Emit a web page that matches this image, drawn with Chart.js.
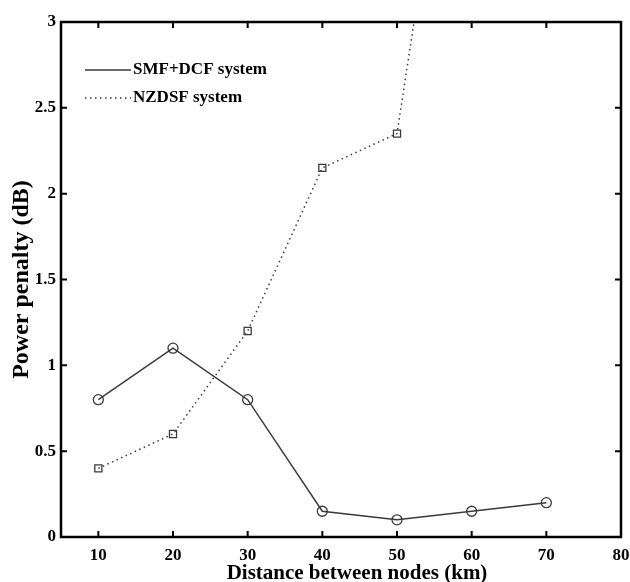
<!DOCTYPE html>
<html>
<head>
<meta charset="utf-8">
<script src="https://cdn.jsdelivr.net/npm/chart.js@4.4.1/dist/chart.umd.min.js"></script>
<style>
  html, body { margin: 0; padding: 0; background: #fff; }
  #wrap { width: 630px; height: 582px; }
</style>
</head>
<body>
<div id="wrap"><canvas id="penalty-chart" width="630" height="582"></canvas></div>
<script>
// data
var distances = [10, 20, 30, 40, 50, 60, 70];
var smfDcf = [0.8, 1.1, 0.8, 0.15, 0.1, 0.15, 0.2];
var nzdsfDistances = [10, 20, 30, 40, 50, 60];
var nzdsf = [0.4, 0.6, 1.2, 2.15, 2.35, 5.2];
var xTicks = [10, 20, 30, 40, 50, 60, 70, 80];
var yTicks = [0, 0.5, 1, 1.5, 2, 2.5, 3];
var xTitle = 'Distance between nodes (km)';

var serif = "'Liberation Serif', 'DejaVu Serif', serif";

function toPoints(xs, ys) {
  return xs.map(function (x, i) { return { x: x, y: ys[i] }; });
}

// frame + inward ticks on all four sides, x axis title
var framePlugin = {
  id: 'frame',
  afterDraw: function (chart) {
    var ctx = chart.ctx, a = chart.chartArea;
    var xs = chart.scales.x, ys = chart.scales.y;
    ctx.save();
    ctx.strokeStyle = '#000';
    ctx.lineWidth = 2.5;
    ctx.strokeRect(a.left, a.top, a.right - a.left, a.bottom - a.top);
    ctx.lineWidth = 2;
    ctx.beginPath();
    xTicks.forEach(function (v) {
      var px = xs.getPixelForValue(v);
      ctx.moveTo(px, a.top); ctx.lineTo(px, a.top + 6);
      ctx.moveTo(px, a.bottom); ctx.lineTo(px, a.bottom - 6);
    });
    yTicks.forEach(function (v) {
      var py = ys.getPixelForValue(v);
      ctx.moveTo(a.left, py); ctx.lineTo(a.left + 6, py);
      ctx.moveTo(a.right, py); ctx.lineTo(a.right - 6, py);
    });
    ctx.stroke();
    // x title sits a little right of centre in the original
    ctx.fillStyle = '#000';
    ctx.font = 'bold 21px ' + serif;
    ctx.textAlign = 'center';
    ctx.textBaseline = 'alphabetic';
    ctx.fillText(xTitle, (a.left + a.right) / 2 + 16, 579);
    ctx.restore();
  }
};

// legend drawn inside the plot, top-left
var insideLegend = {
  id: 'insideLegend',
  afterDraw: function (chart) {
    var ctx = chart.ctx;
    ctx.save();
    ctx.font = 'bold 17px ' + serif;
    ctx.textBaseline = 'middle';
    chart.data.datasets.forEach(function (ds, i) {
      var y = 70 + i * 28;
      ctx.strokeStyle = ds.borderColor;
      ctx.lineWidth = ds.borderWidth;
      ctx.setLineDash(ds.borderDash || []);
      ctx.beginPath();
      ctx.moveTo(85, y); ctx.lineTo(131, y);
      ctx.stroke();
      ctx.setLineDash([]);
      ctx.fillStyle = '#000';
      ctx.fillText(ds.label, 133, y);
    });
    ctx.restore();
  }
};

var penaltyData = {
  datasets: [{
    label: 'SMF+DCF system',
    data: toPoints(distances, smfDcf),
    borderColor: '#3a3a3a',
    borderWidth: 1.5,
    pointStyle: 'circle',
    pointRadius: 5,
    pointBorderWidth: 1.3,
    pointBorderColor: '#3a3a3a',
    pointBackgroundColor: 'rgba(0,0,0,0)',
    fill: false,
    tension: 0
  }, {
    label: 'NZDSF system',
    data: toPoints(nzdsfDistances, nzdsf),
    borderColor: '#3a3a3a',
    borderWidth: 1.5,
    borderDash: [1.5, 3.5],
    pointStyle: 'rect',
    pointRadius: 5,
    pointBorderWidth: 1.3,
    pointBorderColor: '#3a3a3a',
    pointBackgroundColor: 'rgba(0,0,0,0)',
    fill: false,
    tension: 0
  }]
};

var penaltyOptions = {
  responsive: false,
  animation: false,
  layout: { padding: { top: 22, right: 9, left: 0, bottom: 0 } },
  plugins: {
    legend: { display: false },
    tooltip: { enabled: false }
  },
  scales: {
    x: {
      type: 'linear',
      min: 5,
      max: 80,
      afterBuildTicks: function (s) { s.ticks = xTicks.map(function (v) { return { value: v }; }); },
      afterFit: function (s) { s.height = 45; s.paddingLeft = 0; s.paddingRight = 0; },
      grid: { display: false, drawTicks: false },
      border: { display: false },
      ticks: {
        color: '#000',
        padding: 8,
        maxRotation: 0,
        font: { family: serif, size: 17, weight: 'bold' },
        callback: function (v) { return String(v); }
      },
      title: { display: false }
    },
    y: {
      type: 'linear',
      min: 0,
      max: 3,
      afterBuildTicks: function (s) { s.ticks = yTicks.map(function (v) { return { value: v }; }); },
      afterFit: function (s) { s.width = 61; },
      grid: { display: false, drawTicks: false },
      border: { display: false },
      ticks: {
        color: '#000',
        padding: 5,
        font: { family: serif, size: 17, weight: 'bold' },
        callback: function (v) { return String(v); }
      },
      title: {
        display: true,
        text: 'Power penalty (dB)',
        color: '#000',
        padding: { top: 7, bottom: 0 },
        font: { family: serif, size: 24, weight: 'bold' }
      }
    }
  }
};

new Chart(document.getElementById('penalty-chart'), {
  type: 'line',
  data: penaltyData,
  options: penaltyOptions,
  plugins: [framePlugin, insideLegend]
});
</script>
</body>
</html>
